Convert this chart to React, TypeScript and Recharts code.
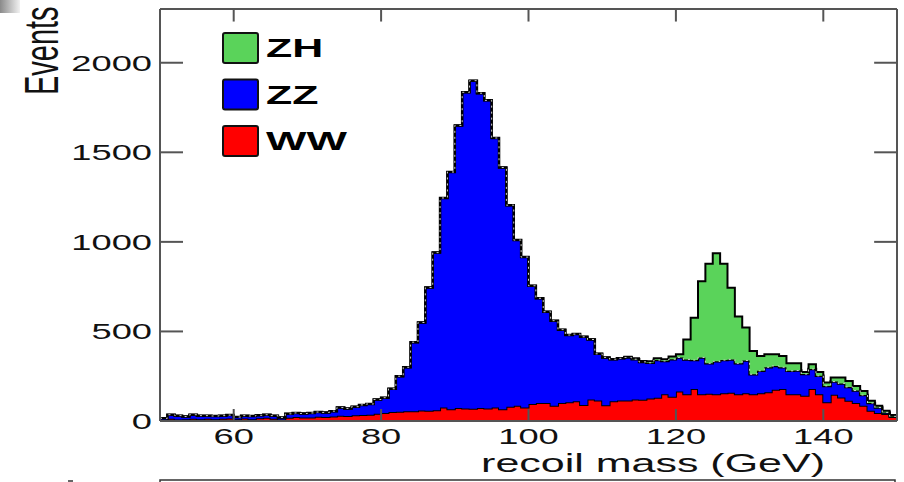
import { ComposedChart, Area, Line, XAxis, YAxis, ReferenceLine } from 'recharts';

// histogram: 1 GeV bins from 50 to 150 GeV
const massLow = 50;
const massHigh = 150;

const wwEvents = [
  5, 12, 8, 10, 12, 10, 12, 10, 12, 14,
  10, 14, 10, 15, 18, 12, 8, 18, 22, 20,
  20, 24, 22, 25, 30, 28, 32, 34, 35, 40,
  45, 50, 52, 55, 55, 58, 57, 60, 75, 65,
  72, 70, 68, 72, 70, 75, 65, 80, 85, 75,
  95, 100, 100, 85, 100, 105, 110, 90, 120, 115,
  88, 110, 115, 115, 120, 118, 125, 130, 150, 135,
  165, 150, 178, 150, 152, 150, 155, 158, 150, 155,
  150, 155, 160, 175, 178, 150, 150, 141, 178, 150,
  104, 146, 131, 113, 100, 85, 57, 45, 39, 22,
];

const zzEvents = [
  10, 23, 22, 15, 23, 20, 18, 18, 18, 19,
  12, 16, 18, 17, 17, 18, 12, 22, 23, 22,
  25, 26, 26, 30, 45, 42, 48, 56, 60, 80,
  85, 130, 198, 245, 385, 492, 688, 880, 1170, 1325,
  1578, 1765, 1832, 1758, 1720, 1505, 1350, 1125, 925, 840,
  660, 585, 510, 475, 410, 375, 375, 380, 335, 260,
  267, 235, 235, 240, 225, 212, 200, 210, 185, 210,
  190, 194, 162, 205, 170, 183, 185, 186, 172, 183,
  111, 125, 140, 132, 122, 130, 132, 121, 112, 102,
  92, 74, 79, 77, 70, 60, 43, 30, 9, 4,
];

const zhEvents = [
  0, 0, 0, 0, 0, 0, 0, 0, 0, 0,
  0, 0, 0, 0, 0, 0, 0, 0, 0, 0,
  0, 0, 0, 0, 0, 0, 0, 0, 0, 0,
  0, 0, 0, 0, 0, 0, 0, 0, 0, 0,
  0, 0, 0, 0, 0, 0, 0, 0, 0, 0,
  0, 0, 0, 0, 0, 0, 0, 0, 2, 0,
  0, 0, 0, 3, 5, 5, 8, 10, 10, 15,
  17, 111, 236, 425, 556, 604, 538, 400, 261, 184,
  130, 83, 72, 65, 63, 42, 40, 12, 27, 21,
  19, 23, 33, 34, 26, 23, 13, 10, 9, 7,
];

const xTicks = [60, 80, 100, 120, 140];
const yTicks = [0, 500, 1000, 1500, 2000];
const yTop = 2300;

const series = [
  { key: 'zh', name: 'ZH', color: '#5ad35a' },
  { key: 'zz', name: 'ZZ', color: '#0000ff' },
  { key: 'ww', name: 'WW', color: '#ff0000' },
];

const FONT = '"Liberation Sans", Arial, Helvetica, sans-serif';
const STRETCH = 1.65; // the original picture is stretched sideways
const FRAME = '#555';

// one row per bin edge, last edge repeats the last bin so the step closes
const rows = Array.from({ length: massHigh - massLow + 1 }, (_, i) => {
  const k = Math.min(i, wwEvents.length - 1);
  return {
    mass: massLow + i,
    ww: wwEvents[k],
    zz: zzEvents[k],
    zh: zhEvents[k],
    zzTop: wwEvents[k] + zzEvents[k],
  };
});

const XTick = (p: any) => {
  const { x, y, payload } = p;
  return (
    <g>
      <line x1={x} x2={x} y1={y} y2={y - 12} stroke={FRAME} strokeWidth={2} />
      <text
        transform={`translate(${x},${y + 23}) scale(${STRETCH},1)`}
        textAnchor="middle"
        fontSize={22}
        fontFamily={FONT}
        fill="#111"
      >
        {payload.value}
      </text>
    </g>
  );
};

const YTick = (p: any) => {
  const { x, y, payload } = p;
  return (
    <g>
      {payload.value !== 0 && <line x1={x} x2={x + 23} y1={y} y2={y} stroke={FRAME} strokeWidth={2} />}
      <text
        transform={`translate(${x - 8},${y + 8}) scale(${STRETCH},1)`}
        textAnchor="end"
        fontSize={22}
        fontFamily={FONT}
        fill="#111"
      >
        {payload.value}
      </text>
    </g>
  );
};

export default function App() {
  return (
    <div style={{ position: 'absolute', left: 0, top: 0, width: 904, height: 482, background: '#fff' }}>
      <ComposedChart width={904} height={482} data={rows} margin={{ top: 9, right: 7, bottom: 0, left: 0 }}>
        <XAxis
          dataKey="mass"
          type="number"
          domain={[massLow, massHigh]}
          ticks={xTicks}
          interval={0}
          height={61}
          tickSize={0}
          tickMargin={0}
          tick={XTick}
          axisLine={{ stroke: FRAME, strokeWidth: 2 }}
          allowDataOverflow
        />
        <YAxis
          type="number"
          domain={[0, yTop]}
          ticks={yTicks}
          interval={0}
          width={160}
          tickSize={0}
          tickMargin={0}
          tick={YTick}
          axisLine={{ stroke: FRAME, strokeWidth: 2 }}
          allowDataOverflow
        />
        <Area type="stepAfter" dataKey="ww" stackId="s" fill="#ff0000" fillOpacity={1} stroke="#000" strokeWidth={2} isAnimationActive={false} />
        <Area type="stepAfter" dataKey="zz" stackId="s" fill="#0000ff" fillOpacity={1} stroke="#000" strokeWidth={2.5} isAnimationActive={false} />
        <Area type="stepAfter" dataKey="zh" stackId="s" fill="#5ad35a" fillOpacity={1} stroke="#000" strokeWidth={2} isAnimationActive={false} />
        <Line type="stepAfter" dataKey="zzTop" stroke="#d0d0d0" strokeWidth={1} strokeDasharray="2 4" dot={false} isAnimationActive={false} />

        {/* frame on top and right with inward ticks */}
        <ReferenceLine y={yTop} stroke={FRAME} strokeWidth={2} />
        <ReferenceLine x={massHigh} stroke={FRAME} strokeWidth={2} />
        {xTicks.map((t) => (
          <ReferenceLine key={'tx' + t} segment={[{ x: t, y: yTop }, { x: t, y: yTop - 70 }]} stroke={FRAME} strokeWidth={2} />
        ))}
        {yTicks.filter((t) => t > 0).map((t) => (
          <ReferenceLine key={'ty' + t} segment={[{ x: massHigh - 3.1, y: t }, { x: massHigh, y: t }]} stroke={FRAME} strokeWidth={2} />
        ))}
      </ComposedChart>

      <svg width={904} height={482} style={{ position: 'absolute', left: 0, top: 0, pointerEvents: 'none' }}>
        <defs>
          <linearGradient id="corner" x1="0" x2="1" y1="0" y2="0">
            <stop offset="0" stopColor="#8a8a8a" />
            <stop offset="1" stopColor="#f2f2f2" />
          </linearGradient>
        </defs>
        <rect x={0} y={0} width={20} height={13} fill="url(#corner)" />

        <text
          transform={`translate(58,95) scale(${STRETCH},1) rotate(-90)`}
          fontSize={29}
          fontFamily={FONT}
          fill="#111"
        >
          Events
        </text>

        {series.map((s, i) => (
          <g key={s.key}>
            <rect x={223} y={33 + i * 46.5} width={35} height={30} rx={2} fill={s.color} stroke="#111" strokeWidth={2} />
            <text
              transform={`translate(266,${57 + i * 46.5}) scale(${STRETCH},1)`}
              fontSize={26}
              fontWeight="bold"
              fontFamily={FONT}
              fill="#000"
            >
              {s.name}
            </text>
          </g>
        ))}

        <text
          transform={`translate(825,472) scale(1.72,1)`}
          textAnchor="end"
          fontSize={25}
          fontFamily={FONT}
          fill="#111"
        >
          recoil mass (GeV)
        </text>

        <rect x={160} y={480} width={735} height={10} fill="none" stroke="#333" strokeWidth={1.5} />
        <line x1={68} x2={73} y1={481} y2={481} stroke="#333" strokeWidth={1.5} />
      </svg>
    </div>
  );
}
